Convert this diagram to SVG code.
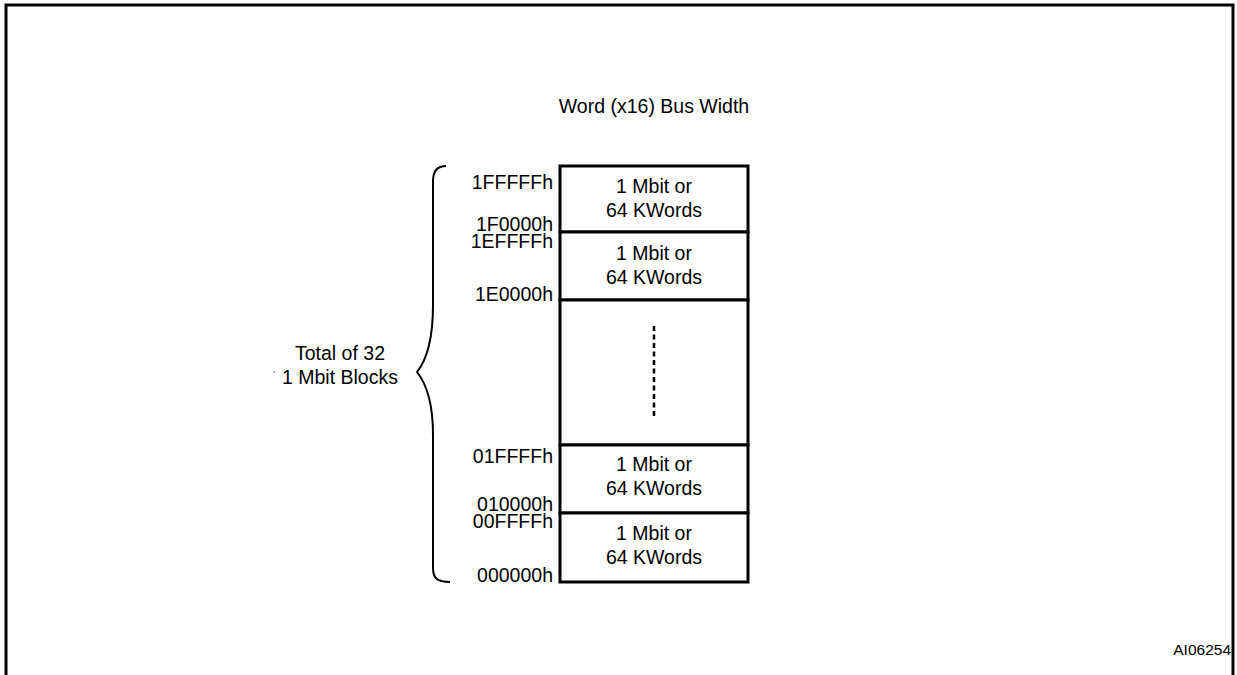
<svg xmlns="http://www.w3.org/2000/svg" width="1237" height="675" viewBox="0 0 1237 675">
<style>
text{font-family:"Liberation Sans",Arial,sans-serif;font-size:19.5px;fill:#000}
.m{text-anchor:middle}
.e{text-anchor:end}
.blk{fill:#fff;stroke:#000;stroke-width:3}
.ln{fill:none;stroke:#000}
</style>
<rect width="1237" height="675" fill="#fff"/>
<g id="frame"><path class="ln" stroke-width="3" d="M6 680 V5 H1233 V680"/></g>
<text id="title" class="m" x="654" y="113">Word (x16) Bus Width</text>
<g id="blocks">
<g id="block-1FFFFF"><rect class="blk" x="560" y="166" width="188" height="66"/><text class="m" x="654" y="193">1 Mbit or</text><text class="m" x="654" y="217">64 KWords</text></g>
<g id="block-1EFFFF"><rect class="blk" x="560" y="232" width="188" height="68"/><text class="m" x="654" y="260">1 Mbit or</text><text class="m" x="654" y="284">64 KWords</text></g>
<g id="block-gap"><rect class="blk" x="560" y="300" width="188" height="145"/><line class="ln" x1="654" y1="326" x2="654" y2="417" stroke-width="2.5" stroke-dasharray="5 3.5"/></g>
<g id="block-01FFFF"><rect class="blk" x="560" y="445" width="188" height="68"/><text class="m" x="654" y="471">1 Mbit or</text><text class="m" x="654" y="495">64 KWords</text></g>
<g id="block-00FFFF"><rect class="blk" x="560" y="513" width="188" height="69"/><text class="m" x="654" y="540">1 Mbit or</text><text class="m" x="654" y="564">64 KWords</text></g>
</g>
<g id="addresses">
<text class="e" x="553" y="189">1FFFFFh</text>
<text class="e" x="553" y="231">1F0000h</text>
<text class="e" x="553" y="248">1EFFFFh</text>
<text class="e" x="553" y="301">1E0000h</text>
<text class="e" x="553" y="463">01FFFFh</text>
<text class="e" x="553" y="511">010000h</text>
<text class="e" x="553" y="528">00FFFFh</text>
<text class="e" x="553" y="582">000000h</text>
</g>
<g id="connectors">
<path id="brace" class="ln" stroke-width="2" d="M446 166 C437 166 433 171 433 181 L433 305 C433 345 425 362 417 372 C425 382 433 400 433 435 L433 568 C433 578 437 582 450 582"/>
</g>
<g id="brace-label">
<text class="m" x="340" y="360">Total of 32</text>
<text class="m" x="340" y="384">1 Mbit Blocks</text>
<circle cx="274" cy="372" r="0.8" fill="#666"/>
</g>
<text id="ref" class="e" x="1231" y="655" style="font-size:15.5px">AI06254</text>
</svg>
